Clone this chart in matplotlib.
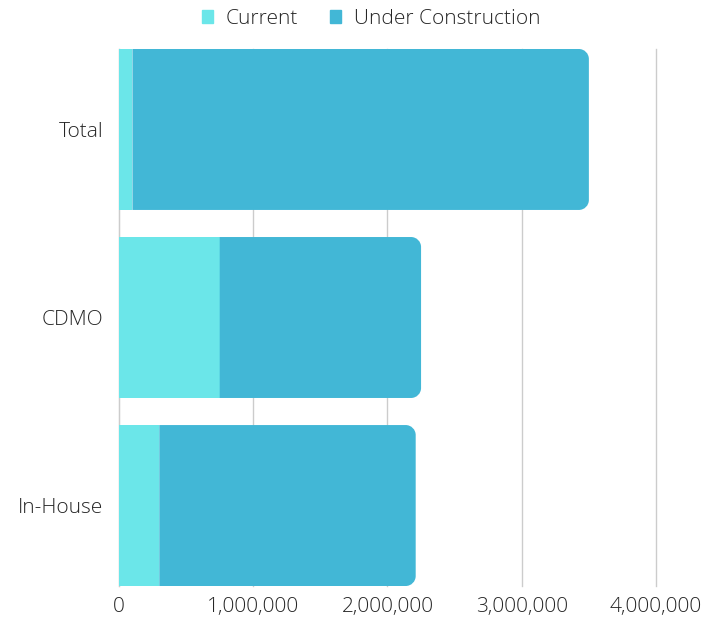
import numpy as np
import matplotlib.pyplot as plt
from matplotlib.path import Path
from matplotlib.patches import PathPatch, Patch
from matplotlib.ticker import FuncFormatter

plt.rcParams['font.family'] = ['Open Sans', 'DejaVu Sans']
plt.rcParams['font.weight'] = 'light'

# data
categories = ['Total', 'CDMO', 'In-House']
current = [100000, 750000, 300000]
under_construction = [3400000, 1500000, 1910000]

c_cur = '#6be6e9'
c_uc = '#42b7d6'

W, H = 705, 622
fig = plt.figure(figsize=(W / 100, H / 100), dpi=100)
ax = fig.add_axes([119 / W, 1 - 586 / H, (656 - 119) / W, (586 - 49) / H])

y = np.arange(len(categories))
bar_h = 0.856
ax.set_xlim(0, 4000000)
ax.set_ylim(len(categories) - 1 + bar_h / 2, -bar_h / 2)

ax.barh(y, current, height=bar_h, color=c_cur, zorder=3)

# px -> data units for the rounded right corners
px_x = 4000000 / (656 - 119)
px_y = (len(categories) - 1 + bar_h) / (586 - 49)
r = 10
k = 0.5523
for yi, left, w in zip(y, current, under_construction):
    x0, x1 = left, left + w
    y0, y1 = yi - bar_h / 2, yi + bar_h / 2
    rx, ry = r * px_x, r * px_y
    verts = [(x0, y0), (x1 - rx, y0),
             (x1 - rx + k * rx, y0), (x1, y0 + ry - k * ry), (x1, y0 + ry),
             (x1, y1 - ry),
             (x1, y1 - ry + k * ry), (x1 - rx + k * rx, y1), (x1 - rx, y1),
             (x0, y1), (x0, y0)]
    codes = [Path.MOVETO, Path.LINETO,
             Path.CURVE4, Path.CURVE4, Path.CURVE4,
             Path.LINETO,
             Path.CURVE4, Path.CURVE4, Path.CURVE4,
             Path.LINETO, Path.CLOSEPOLY]
    ax.add_patch(PathPatch(Path(verts, codes), facecolor=c_uc, edgecolor='none', zorder=3))

ax.set_yticks(y)
ax.set_yticklabels(categories)
ax.set_xticks([0, 1000000, 2000000, 3000000, 4000000])
ax.xaxis.set_major_formatter(FuncFormatter(lambda v, p: f'{int(v):,}'))
ax.tick_params(length=0, labelsize=15, colors='#262626')
ax.tick_params(axis='y', pad=11.5)
ax.tick_params(axis='x', pad=8)

ax.grid(axis='x', color='#cccccc', linewidth=1, zorder=0)
for gl in ax.get_xgridlines():
    gl.set_clip_on(False)
for s in ['top', 'right', 'bottom']:
    ax.spines[s].set_visible(False)
ax.spines['left'].set_color('#cccccc')

handles = [Patch(color=c_cur, label='Current'), Patch(color=c_uc, label='Under Construction')]
fig.legend(handles=handles, loc='center', bbox_to_anchor=(371 / W, 1 - 19 / H), ncol=2,
           frameon=False, fontsize=15, handlelength=0.55, handleheight=0.55,
           handletextpad=0.6, columnspacing=1.5, labelcolor='#262626')

fig.savefig('out.png', dpi=100)
